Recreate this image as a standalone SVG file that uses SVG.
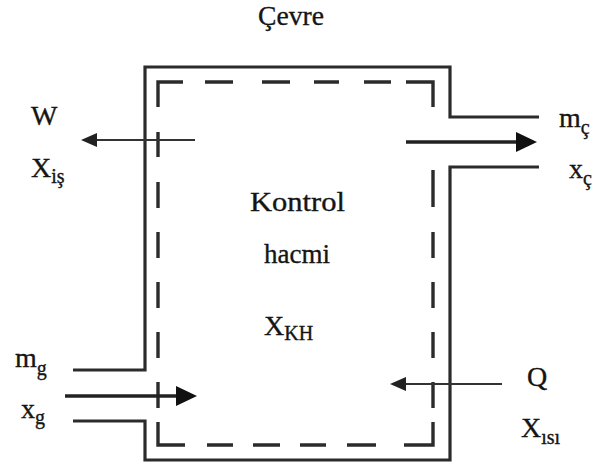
<svg xmlns="http://www.w3.org/2000/svg" width="594" height="468" viewBox="0 0 594 468">
  <style>
    .wall { fill: none; stroke: #2b2b2b; stroke-width: 3.2; stroke-linejoin: miter; }
    .cv { fill: none; stroke: #2b2b2b; stroke-width: 3.4; stroke-linecap: butt; stroke-linejoin: miter; }
    .thin { fill: none; stroke: #333; stroke-width: 1.8; }
    .thick { fill: none; stroke: #222; stroke-width: 3.6; }
    text { font-family: "Liberation Serif", "Times New Roman", serif; fill: #151515; stroke: #151515; stroke-width: 0.35; }
    .lbl { font-size: 28px; }
    .sub { font-size: 20px; }
  </style>
  <defs>
    <marker id="head-thin" markerUnits="userSpaceOnUse" markerWidth="16" markerHeight="14" refX="1" refY="7" orient="auto" viewBox="0 0 16 14">
      <path d="M0,0 L16,7 L0,14 Z" fill="#222"/>
    </marker>
    <marker id="head-thick" markerUnits="userSpaceOnUse" markerWidth="21" markerHeight="20" refX="1" refY="10" orient="auto" viewBox="0 0 21 20">
      <path d="M0,0 L21,10 L0,20 Z" fill="#111"/>
    </marker>
  </defs>

  <rect width="594" height="468" fill="#ffffff"/>

  <!-- surroundings label -->
  <g id="surroundings">
    <text class="lbl" x="258" y="25" textLength="66" lengthAdjust="spacingAndGlyphs">Çevre</text>
  </g>

  <!-- solid system wall with inlet and outlet openings -->
  <g id="system-wall">
    <path class="wall" d="M539,117 H450 V67 H145 V370 H73"/>
    <path class="wall" d="M73,421 H145 V460 H450 V167 H539"/>
  </g>

  <!-- dashed control surface -->
  <g id="control-surface">
    <path class="cv" d="M183,82 H158 V107"/>
    <path class="cv" d="M406,82 H433 V107"/>
    <path class="cv" d="M158,422 V445 H185"/>
    <path class="cv" d="M433,422 V445 H404"/>
    <path class="cv" d="M205,82 H233 M262,82 H290 M314,82 H339 M364,82 H391"/>
    <path class="cv" d="M207,445 H233 M253,445 H280 M300,445 H326 M347,445 H376"/>
    <path class="cv" d="M158,132 V157 M158,182 V208 M158,232 V258 M158,282 V308 M158,332 V358 M158,382 V408"/>
    <path class="cv" d="M433,170 V207 M433,232 V258 M433,282 V308 M433,332 V358 M433,382 V408"/>
  </g>

  <!-- control volume labels -->
  <g id="control-volume">
    <text class="lbl" x="250" y="211" textLength="95" lengthAdjust="spacingAndGlyphs">Kontrol</text>
    <text class="lbl" x="264" y="263" textLength="66" lengthAdjust="spacingAndGlyphs">hacmi</text>
    <text class="lbl" x="264" y="335">X<tspan class="sub" dy="5">KH</tspan></text>
  </g>

  <!-- energy and mass flows -->
  <g id="connectors">
    <line class="thin" x1="195" y1="140" x2="96" y2="140" marker-end="url(#head-thin)"/>
    <line class="thick" x1="406" y1="142" x2="517" y2="142" marker-end="url(#head-thick)"/>
    <line class="thick" x1="65" y1="396" x2="177" y2="396" marker-end="url(#head-thick)"/>
    <line class="thin" x1="502" y1="384" x2="405" y2="384" marker-end="url(#head-thin)"/>
  </g>

  <!-- work -->
  <g id="work">
    <text class="lbl" x="31" y="125">W</text>
    <text class="lbl" x="31" y="177">X<tspan class="sub" dy="6">iş</tspan></text>
  </g>

  <!-- outlet -->
  <g id="outlet">
    <text class="lbl" x="559" y="127">m<tspan class="sub" dy="7">ç</tspan></text>
    <text class="lbl" x="569" y="178">x<tspan class="sub" dy="7">ç</tspan></text>
  </g>

  <!-- inlet -->
  <g id="inlet">
    <text class="lbl" x="15" y="367">m<tspan class="sub" dy="8">g</tspan></text>
    <text class="lbl" x="21" y="418">x<tspan class="sub" dy="6">g</tspan></text>
  </g>

  <!-- heat -->
  <g id="heat">
    <text class="lbl" x="527" y="386">Q</text>
    <text class="lbl" x="521" y="437">X<tspan class="sub" dy="7">ısı</tspan></text>
  </g>
</svg>
